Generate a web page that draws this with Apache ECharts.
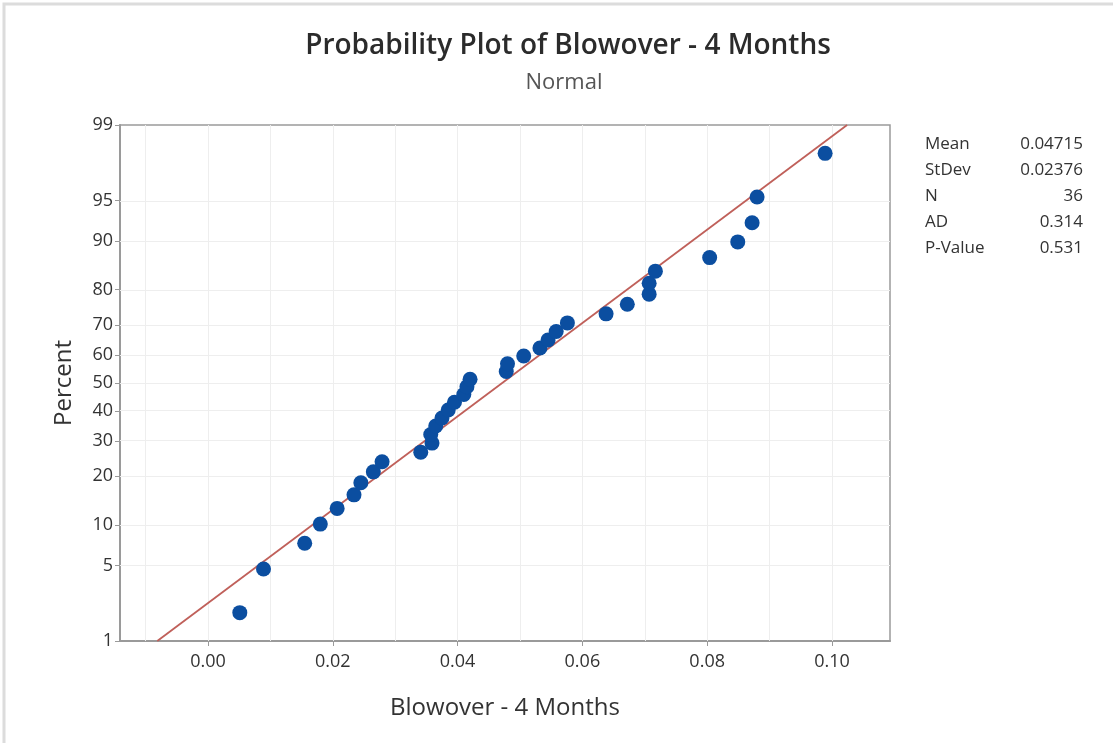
<!DOCTYPE html>
<html><head><meta charset="utf-8">
<script src="https://cdn.jsdelivr.net/npm/echarts@6/dist/echarts.min.js"></script>
<style>html,body{margin:0;padding:0;background:#fff}#c{width:1113px;height:743px}</style>
</head><body><div id="c"></div>
<script>
// ---- data ----
const blowover = [0.0051,0.0089,0.0155,0.0180,0.0207,0.0234,0.0245,0.0265,0.0279,
  0.0341,0.0359,0.0357,0.0365,0.0375,0.0385,0.0395,0.0410,0.0415,0.0420,
  0.0478,0.0480,0.0506,0.0532,0.0545,0.0558,0.0576,
  0.0638,0.0672,0.0707,0.0707,0.0717,0.0804,0.0849,0.0872,0.0880,0.0989];
const percent = [1.92,4.67,7.42,10.16,12.91,15.66,18.41,21.15,23.90,26.65,29.40,32.14,
  34.89,37.64,40.38,43.13,45.88,48.63,51.37,54.12,56.87,59.62,62.36,65.11,67.86,70.60,
  73.35,76.10,78.85,81.59,84.34,87.09,89.84,92.58,95.33,98.08];
const yTickPercents = [1,5,10,20,30,40,50,60,70,80,90,95,99];
const xTickLabels = [0.00,0.02,0.04,0.06,0.08,0.10];
const xGridValues = [-0.01,0.00,0.01,0.02,0.03,0.04,0.05,0.06,0.07,0.08,0.09,0.10];
const statNames = ['Mean','StDev','N','AD','P-Value'];
const statValues = ['0.04715','0.02376','36','0.314','0.531'];
const fitMean = 0.04715, fitStDev = 0.02376;

// inverse standard normal CDF (Acklam) -> probability-scale axis
function probit(p){
  const a=[-3.969683028665376e+01,2.209460984245205e+02,-2.759285104469687e+02,1.383577518672690e+02,-3.066479806614716e+01,2.506628277459239e+00];
  const b=[-5.447609879822406e+01,1.615858368580409e+02,-1.556989798598866e+02,6.680131188771972e+01,-1.328068155288572e+01];
  const c=[-7.784894002430293e-03,-3.223964580411365e-01,-2.400758277161838e+00,-2.549671039347012e+00,4.374664141464968e+00,2.938163982698783e+00];
  const d=[7.784695709041462e-03,3.224671290700398e-01,2.445134137142996e+00,3.754408661907416e+00];
  const pl=0.02425; let q,r;
  if(p<pl){q=Math.sqrt(-2*Math.log(p));return (((((c[0]*q+c[1])*q+c[2])*q+c[3])*q+c[4])*q+c[5])/((((d[0]*q+d[1])*q+d[2])*q+d[3])*q+1);}
  if(p>1-pl){q=Math.sqrt(-2*Math.log(1-p));return -(((((c[0]*q+c[1])*q+c[2])*q+c[3])*q+c[4])*q+c[5])/((((d[0]*q+d[1])*q+d[2])*q+d[3])*q+1);}
  q=p-0.5;r=q*q;return (((((a[0]*r+a[1])*r+a[2])*r+a[3])*r+a[4])*r+a[5])*q/(((((b[0]*r+b[1])*r+b[2])*r+b[3])*r+b[4])*r+1);
}
const yTickZ = yTickPercents.map(p=>probit(p/100));
const zMin = probit(0.01), zMax = probit(0.99);
const points = blowover.map((x,i)=>[x, probit(percent[i]/100)]);
const fitLine = [[fitMean+fitStDev*zMin, zMin],[fitMean+fitStDev*zMax, zMax]];

const FONT = "'Open Sans', 'Noto Sans', sans-serif";
const gridMarks = xGridValues.map(v=>({xAxis:v})).concat(yTickZ.slice(1,-1).map(v=>({yAxis:v})));

const statGraphics = [];
statNames.forEach((n,i)=>{
  statGraphics.push({type:'text',left:925,top:136+i*26,style:{text:n,fill:'#333',font:"17px "+FONT}});
  statGraphics.push({type:'text',right:1113-1083,top:136+i*26,style:{text:statValues[i],fill:'#333',font:"17px "+FONT,textAlign:'right'}});
});

const chart = echarts.init(document.getElementById('c'));
chart.setOption({
  animation:false,
  backgroundColor:'#fff',
  title:[
    {text:'Probability Plot of Blowover - 4 Months',left:563,top:27,textAlign:'center',
     textStyle:{fontFamily:FONT,fontSize:28,fontWeight:600,color:'#2b2b2b'}},
    {text:'Normal',left:559,top:67,textAlign:'center',
     textStyle:{fontFamily:FONT,fontSize:22,fontWeight:'normal',color:'#555'}}
  ],
  graphic:[{type:'rect',shape:{x:4,y:4,width:1130,height:760},style:{fill:null,stroke:'#dcdcdc',lineWidth:3},silent:true}].concat(statGraphics),
  grid:{left:120,top:125,right:223,bottom:102,show:true,borderColor:'#9a9a9a',borderWidth:1.5,backgroundColor:'transparent'},
  xAxis:{type:'value',min:-0.0141,max:0.1093,
    name:'Blowover - 4 Months',nameLocation:'middle',nameGap:55,
    nameTextStyle:{fontFamily:FONT,fontSize:24,color:'#333'},
    axisLine:{show:true,onZero:false,lineStyle:{color:'#9a9a9a',width:2}},
    axisTick:{show:true,customValues:xTickLabels,length:5,lineStyle:{color:'#9a9a9a'}},
    axisLabel:{customValues:xTickLabels,formatter:v=>v.toFixed(2),fontFamily:FONT,fontSize:18,color:'#333',margin:12},
    splitLine:{show:false}},
  yAxis:{type:'value',min:zMin,max:zMax,
    name:'Percent',nameLocation:'middle',nameGap:44,nameRotate:90,
    nameTextStyle:{fontFamily:FONT,fontSize:24,color:'#333'},
    axisLine:{show:true,onZero:false,lineStyle:{color:'#9a9a9a',width:2}},
    axisTick:{show:true,customValues:yTickZ,length:5,lineStyle:{color:'#9a9a9a'}},
    axisLabel:{customValues:yTickZ,fontFamily:FONT,fontSize:18,color:'#333',margin:7,
      formatter:v=>{let best=0;yTickZ.forEach((z,i)=>{if(Math.abs(z-v)<Math.abs(yTickZ[best]-v))best=i;});return String(yTickPercents[best]);}},
    splitLine:{show:false}},
  series:[
    {type:'line',data:[],z:1,silent:true,
     markLine:{z:1,silent:true,symbol:['none','none'],label:{show:false},animation:false,
       lineStyle:{color:'#eeeeee',type:'solid',width:1},data:gridMarks}},
    {type:'line',data:fitLine,showSymbol:false,symbol:'none',z:2,silent:true,
     lineStyle:{color:'#c0605a',width:1.8}},
    {type:'scatter',data:points,symbol:'circle',symbolSize:15,z:3,
     itemStyle:{color:'#0b4ea0',opacity:1,borderWidth:0}}
  ]
});
</script></body></html>
